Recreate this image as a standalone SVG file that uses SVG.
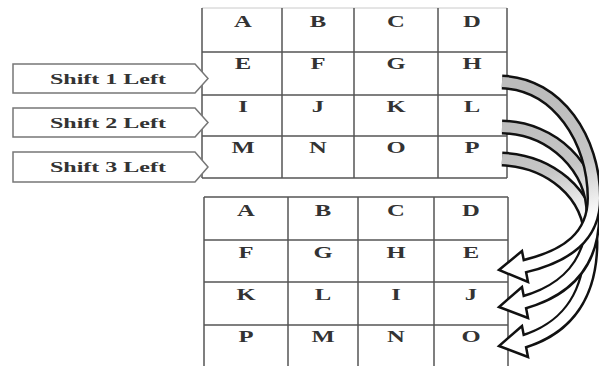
<svg xmlns="http://www.w3.org/2000/svg" width="599" height="366" viewBox="0 0 599 366">
<style>
.g{stroke:#555;stroke-width:1.5;fill:none}
.t{font-family:"Liberation Serif",serif;font-weight:bold;font-size:17px;fill:#333;text-anchor:middle}
.s{font-family:"Liberation Serif",serif;font-weight:bold;font-size:15.5px;fill:#333;text-anchor:middle}
.box{fill:#fff;stroke:#777;stroke-width:1.5}
.out{fill:none;stroke:#111;stroke-width:15}
.in{fill:none;stroke:url(#gr);stroke-width:10}
.head{fill:#fff;stroke:#111;stroke-width:2.5;stroke-linejoin:miter}
</style>
<defs>
<linearGradient id="gr" gradientUnits="userSpaceOnUse" x1="540" y1="100" x2="590" y2="235">
<stop offset="0" stop-color="#bcbcbc"/>
<stop offset="0.5" stop-color="#c6c6c6"/>
<stop offset="0.9" stop-color="#ffffff"/>
</linearGradient>
</defs>
<rect width="599" height="366" fill="#fff"/>
<g id="grid-top">
<path class="g" d="M202 8V178M282 8V178M354 8V178M438 8V178M507 8V178M202 52H507M202 95H507M202 136H507M202 178H507"/>
<path d="M202 8H507" stroke="#555" stroke-width="1" opacity="0.3"/>
<g transform="matrix(1.45,0,0,1,243,0)"><text class="t" x="0" y="27">A</text><text class="t" x="0" y="69">E</text><text class="t" x="0" y="112">I</text><text class="t" x="0" y="153">M</text></g>
<g transform="matrix(1.45,0,0,1,318,0)"><text class="t" x="0" y="27">B</text><text class="t" x="0" y="69">F</text><text class="t" x="0" y="112">J</text><text class="t" x="0" y="153">N</text></g>
<g transform="matrix(1.45,0,0,1,396,0)"><text class="t" x="0" y="27">C</text><text class="t" x="0" y="69">G</text><text class="t" x="0" y="112">K</text><text class="t" x="0" y="153">O</text></g>
<g transform="matrix(1.45,0,0,1,472,0)"><text class="t" x="0" y="27">D</text><text class="t" x="0" y="69">H</text><text class="t" x="0" y="112">L</text><text class="t" x="0" y="153">P</text></g>
</g>
<g id="grid-bottom">
<path class="g" d="M204 197V366M288 197V366M358 197V366M434 197V366M508 197V366M204 197H508M204 240H508M204 282H508M204 325H508"/>
<g transform="matrix(1.45,0,0,1,246,0)"><text class="t" x="0" y="216">A</text><text class="t" x="0" y="258">F</text><text class="t" x="0" y="300">K</text><text class="t" x="0" y="342">P</text></g>
<g transform="matrix(1.45,0,0,1,323,0)"><text class="t" x="0" y="216">B</text><text class="t" x="0" y="258">G</text><text class="t" x="0" y="300">L</text><text class="t" x="0" y="342">M</text></g>
<g transform="matrix(1.45,0,0,1,396,0)"><text class="t" x="0" y="216">C</text><text class="t" x="0" y="258">H</text><text class="t" x="0" y="300">I</text><text class="t" x="0" y="342">N</text></g>
<g transform="matrix(1.45,0,0,1,471,0)"><text class="t" x="0" y="216">D</text><text class="t" x="0" y="258">E</text><text class="t" x="0" y="300">J</text><text class="t" x="0" y="342">O</text></g>
</g>
<g id="shift1"><path class="box" d="M13 64H195L208 78.5L195 93H13Z"/><text class="s" x="108" y="84" textLength="116" lengthAdjust="spacingAndGlyphs">Shift 1 Left</text></g>
<g id="shift2"><path class="box" d="M13 108H195L208 122.5L195 137H13Z"/><text class="s" x="108" y="128" textLength="116" lengthAdjust="spacingAndGlyphs">Shift 2 Left</text></g>
<g id="shift3"><path class="box" d="M13 152H195L208 167L195 182H13Z"/><text class="s" x="108" y="172" textLength="116" lengthAdjust="spacingAndGlyphs">Shift 3 Left</text></g>
<g id="connectors">
<g id="arrow3">
<path class="head" d="M522 326L499 346L528 357Z"/>
<path class="out" d="M502 159C548 161 591 192 591 242C591 295 567 328 525 341"/>
<path class="in" d="M502 159C548 161 591 192 591 242C591 295 567 328 522 342"/>
</g>
<g id="arrow2">
<path class="head" d="M522 287L499 307L528 318Z"/>
<path class="out" d="M502 127C553 128 593 168 593 215C593 262 568 290 525 302"/>
<path class="in" d="M502 127C553 128 593 168 593 215C593 262 568 290 522 303"/>
</g>
<g id="arrow1">
<path class="head" d="M522 251L499 270L528 282Z"/>
<path class="out" d="M502 82C558 84 594 140 594 198C594 236 568 256 525 266"/>
<path class="in" d="M502 82C558 84 594 140 594 198C594 236 568 256 522 267"/>
</g>
</g>
</svg>
